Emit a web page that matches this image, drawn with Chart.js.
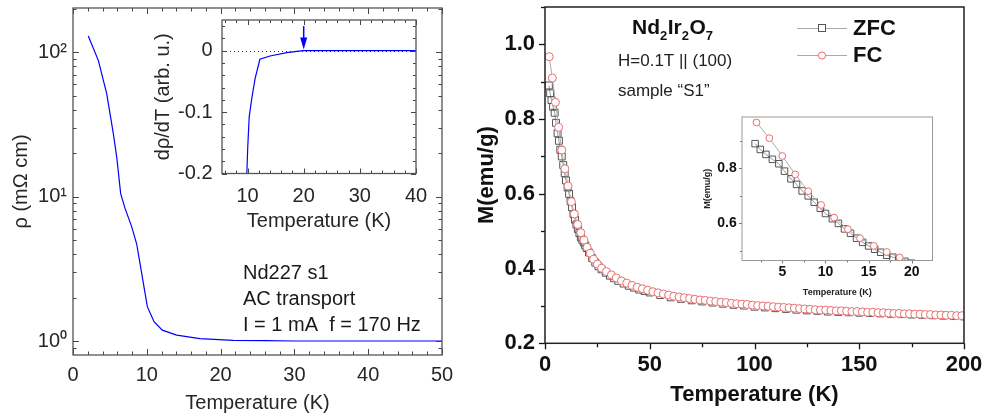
<!DOCTYPE html>
<html>
<head>
<meta charset="utf-8">
<script src="https://cdn.jsdelivr.net/npm/chart.js@4.4.1/dist/chart.umd.min.js"></script>
<style>
  body { margin: 0; background: #fff; }
  #wrap { position: relative; width: 984px; height: 419px; }
  #wrap canvas { position: absolute; left: 0; top: 0; }
</style>
</head>
<body>
<div id="wrap">
  <canvas id="rhoMain" width="984" height="419"></canvas>
  <canvas id="rhoInset" width="984" height="419"></canvas>
  <canvas id="magMain" width="984" height="419"></canvas>
  <canvas id="magInset" width="984" height="419"></canvas>
</div>
<script>
// ---- left panel: resistivity ----
var rhoT = [2.07, 3.43, 4.56, 5.46, 5.92, 6.46, 7.05, 7.95, 8.63, 9.08, 10.07, 10.98, 12.1, 14.05, 17.2, 21.7, 26, 30, 35, 40, 45, 50];
var rhoVal = [130, 88, 52, 27.5, 18.9, 10.5, 8.3, 6.2, 4.7, 3.45, 1.73, 1.36, 1.19, 1.10, 1.04, 1.01, 1.005, 1.0, 1.0, 1.0, 1.0, 1.0];
var rhoMajorX = [0, 10, 20, 30, 40, 50];
var rhoMinorX = [2, 4, 6, 8, 12, 14, 16, 18, 22, 24, 26, 28, 32, 34, 36, 38, 42, 44, 46, 48];
var rhoMajorY = [1, 10, 100];
var rhoMinorY = [0.9, 2, 3, 4, 5, 6, 7, 8, 9, 20, 30, 40, 50, 60, 70, 80, 90, 200];

// inset: derivative
var dT = [9.85, 10.04, 10.3, 10.8, 11.35, 12.2, 14, 17, 19.9, 25, 30, 35, 40];
var dVal = [-0.205, -0.156, -0.107, -0.075, -0.045, -0.014, -0.0086, -0.003, 0, 0, 0, 0, 0];
var dMajorX = [10, 20, 30, 40];
var dMinorX = [6, 8, 12, 14, 16, 18, 22, 24, 26, 28, 32, 34, 36, 38];
var dMajorY = [-0.2, -0.1, 0];
var dMinorY = [-0.18, -0.16, -0.14, -0.12, -0.08, -0.06, -0.04, -0.02, 0.02, 0.04];

// ---- right panel: magnetisation ----
var fcT = [2.0, 3.5, 5.0, 6.5, 8.0, 9.5, 11.0, 12.6, 14.0, 15.6, 17.1, 18.6, 20.1,
  21.6, 23.2, 25.0, 27.0, 29.3, 31.7, 34.0, 36.5,
  39.0, 41.5, 44.0, 46.5, 49.0, 51.5, 54.0, 56.5, 59.0, 61.5, 64.0, 66.5, 69.0, 71.5, 74.0, 76.5,
  79.0, 81.5, 84.0, 86.5, 89.0, 91.5, 94.0, 96.5, 99.0, 101.5, 104.0, 106.5, 109.0, 111.5, 114.0,
  116.5, 119.0, 121.5, 124.0, 126.5, 129.0, 131.5, 134.0, 136.5, 139.0, 141.5, 144.0, 146.5, 149.0,
  151.5, 154.0, 156.5, 159.0, 161.5, 164.0, 166.5, 169.0, 171.5, 174.0, 176.5, 179.0, 181.5, 184.0,
  186.5, 189.0, 191.5, 194.0, 196.5, 199.0];
var fcM = [0.967, 0.910, 0.845, 0.778, 0.717, 0.667, 0.621, 0.579, 0.546, 0.518, 0.496, 0.476, 0.457,
  0.441, 0.425, 0.412, 0.401, 0.392, 0.383, 0.375, 0.367,
  0.361, 0.355, 0.350, 0.346, 0.342, 0.338, 0.335, 0.332, 0.329, 0.326, 0.324, 0.322, 0.320, 0.318, 0.316, 0.315,
  0.313, 0.312, 0.310, 0.309, 0.307, 0.306, 0.305, 0.304, 0.302, 0.301, 0.300, 0.299, 0.298, 0.297, 0.296,
  0.295, 0.294, 0.293, 0.292, 0.291, 0.290, 0.289, 0.289, 0.288, 0.287, 0.287, 0.286, 0.285, 0.285,
  0.284, 0.283, 0.283, 0.282, 0.282, 0.281, 0.280, 0.280, 0.279, 0.279, 0.278, 0.278, 0.277, 0.277,
  0.276, 0.276, 0.275, 0.275, 0.274, 0.274];
var zfcT = [1.85, 2.45, 3.1, 3.85, 4.6, 5.25, 6.0, 6.65, 7.3, 8.0, 8.7, 9.4, 10.0, 10.8, 11.5, 12.2, 12.9,
  13.6, 14.3, 15.0, 15.7, 16.4, 17.1, 17.8, 18.5, 19.2, 19.9,
  21.0, 22.5, 24.0, 25.5, 27.0, 29.0, 31.0, 33.0, 35.0, 37.5,
  40, 42.5, 45, 47.5, 50,
  55, 60, 65, 70, 75, 80, 85, 90, 95, 100, 105, 110, 115, 120, 125, 130, 135, 140, 145, 150,
  155, 160, 165, 170, 175, 180, 185, 190, 195, 200];
var zfcM = [0.890, 0.869, 0.851, 0.833, 0.817, 0.790, 0.762, 0.742, 0.718, 0.700, 0.677, 0.655, 0.636,
  0.617, 0.600, 0.580, 0.564, 0.546, 0.531, 0.518, 0.506, 0.495, 0.484, 0.477, 0.470, 0.462, 0.455,
  0.443, 0.428, 0.416, 0.406, 0.398, 0.389, 0.381, 0.374, 0.367, 0.360,
  0.354, 0.349, 0.344, 0.340, 0.336,
  0.329, 0.323, 0.319, 0.315, 0.312, 0.309, 0.306, 0.303, 0.301, 0.298, 0.296, 0.294, 0.292, 0.290,
  0.288, 0.287, 0.285, 0.284, 0.283, 0.282, 0.281, 0.280, 0.279, 0.278, 0.277, 0.276, 0.275, 0.274, 0.273, 0.272];
var magMajorX = [0, 50, 100, 150, 200];
var magMinorX = [25, 75, 125, 175];
var magMajorY = [0.2, 0.4, 0.6, 0.8, 1.0];
var magMinorY = [0.3, 0.5, 0.7, 0.9, 1.1];
var insMajorX = [5, 10, 15, 20];
var insMinorX = [2.5, 7.5, 12.5, 17.5];
var insMajorY = [0.6, 0.8];
var insMinorY = [0.5, 0.7, 0.9];

var FONT = "'Liberation Sans', Arial, Helvetica, sans-serif";
Chart.defaults.font.family = FONT;
Chart.defaults.animation = false;

function pts(xs, ys) {
  return xs.map(function(x, i) { return {x: x, y: ys[i]}; });
}

// tick marks + frame, positioned through the chart's own scales
var frameTicks = {
  id: 'frameTicks',
  beforeDraw: function(chart, args, o) {
    if (!o.fill) return;
    var a = chart.chartArea, ctx = chart.ctx;
    ctx.save();
    ctx.fillStyle = o.fill;
    ctx.fillRect(a.left, a.top, a.right - a.left, a.bottom - a.top);
    ctx.restore();
  },
  afterDatasetsDraw: function(chart, args, o) {
    var a = chart.chartArea, ctx = chart.ctx;
    var dir = o.inward ? 1 : -1;
    ctx.save();
    ctx.strokeStyle = o.tickColor;
    ctx.lineWidth = o.tickWidth;
    ['x', 'y'].forEach(function(id) {
      var s = chart.scales[id], t = o[id];
      [[t.major, o.majorLen], [t.minor, o.minorLen]].forEach(function(pair) {
        pair[0].forEach(function(v) {
          var p = Math.round(s.getPixelForValue(v)) + 0.5;
          ctx.beginPath();
          if (id === 'x') {
            ctx.moveTo(p, a.bottom); ctx.lineTo(p, a.bottom - dir * pair[1]);
            if (o.mirror) { ctx.moveTo(p, a.top); ctx.lineTo(p, a.top + dir * pair[1]); }
          } else {
            ctx.moveTo(a.left, p); ctx.lineTo(a.left + dir * pair[1], p);
            if (o.mirror) { ctx.moveTo(a.right, p); ctx.lineTo(a.right - dir * pair[1], p); }
          }
          ctx.stroke();
        });
      });
    });
    ctx.strokeStyle = o.frameColor;
    ctx.lineWidth = o.frameWidth;
    ctx.strokeRect(a.left, a.top, a.right - a.left, a.bottom - a.top);
    ctx.restore();
  }
};

function fixTicks(list) {
  return function(scale) { scale.ticks = list.map(function(v) { return {value: v}; }); };
}
// fixed axis thickness; label overflow must not move the plot area
function fitX(h) {
  return function(s) { s.height = h; s.paddingLeft = 0; s.paddingRight = 0; };
}
function fitY(w) {
  return function(s) { s.width = w; s.paddingTop = 0; s.paddingBottom = 0; };
}

// ---------- left main ----------
var rhoNotes = {
  id: 'rhoNotes',
  afterDraw: function(chart) {
    var ctx = chart.ctx;
    ctx.save();
    ctx.fillStyle = '#1a1a1a';
    ctx.font = '20px ' + FONT;
    ctx.textBaseline = 'middle';
    ctx.fillText('Nd227 s1', 243, 273);
    ctx.fillText('AC transport', 243, 299);
    ctx.fillText('I = 1 mA  f = 170 Hz', 243, 325);
    ctx.restore();
  }
};

new Chart(document.getElementById('rhoMain'), {
  type: 'scatter',
  data: { datasets: [{
    data: pts(rhoT, rhoVal), showLine: true, borderColor: '#0000ff', borderWidth: 1.2,
    pointRadius: 0, tension: 0
  }]},
  options: {
    responsive: false, devicePixelRatio: 1,
    layout: { padding: { left: 9, top: 8, right: 542, bottom: 4 } },
    plugins: {
      legend: { display: false }, tooltip: { enabled: false },
      frameTicks: { inward: true, mirror: true, majorLen: 6, minorLen: 3.5, tickColor: '#444', tickWidth: 1,
        frameColor: '#555', frameWidth: 1.3,
        x: { major: rhoMajorX, minor: rhoMinorX }, y: { major: rhoMajorY, minor: rhoMinorY } }
    },
    scales: {
      x: { type: 'linear', min: 0, max: 50, afterBuildTicks: fixTicks(rhoMajorX),
        afterFit: fitX(60),
        grid: { display: false, drawTicks: false }, border: { display: false },
        ticks: { padding: 8, color: '#262626', font: { size: 20 } },
        title: { display: true, text: 'Temperature (K)', color: '#262626', font: { size: 20 }, padding: 0 } },
      y: { type: 'logarithmic', min: 0.8, max: 203, afterBuildTicks: fixTicks(rhoMajorY),
        afterFit: fitY(64),
        grid: { display: false, drawTicks: false }, border: { display: false },
        ticks: { padding: 6, color: '#262626', font: { size: 20 },
          callback: function(v) { return v === 1 ? '10\u2070' : v === 10 ? '10\u00b9' : v === 100 ? '10\u00b2' : ''; } },
        title: { display: true, text: '\u03c1 (m\u03a9 cm)', color: '#262626', font: { size: 20 }, padding: 0 } }
    }
  },
  plugins: [frameTicks, rhoNotes]
});

// ---------- left inset ----------
var dMarks = {
  id: 'dMarks',
  beforeDatasetsDraw: function(chart) {
    var ctx = chart.ctx, a = chart.chartArea;
    var y0 = Math.round(chart.scales.y.getPixelForValue(0)) + 0.5;
    ctx.save();
    ctx.strokeStyle = '#333';
    ctx.lineWidth = 1;
    ctx.setLineDash([1, 3]);
    ctx.beginPath(); ctx.moveTo(a.left, y0); ctx.lineTo(a.right, y0); ctx.stroke();
    ctx.restore();
  },
  afterDatasetsDraw: function(chart) {
    var ctx = chart.ctx;
    var x = chart.scales.x.getPixelForValue(20);
    var yTop = chart.scales.y.getPixelForValue(0.04);
    var yTip = chart.scales.y.getPixelForValue(0.002);
    ctx.save();
    ctx.strokeStyle = '#0000ff'; ctx.fillStyle = '#0000ff'; ctx.lineWidth = 1.5;
    ctx.beginPath(); ctx.moveTo(x, yTop); ctx.lineTo(x, yTip - 8); ctx.stroke();
    ctx.beginPath(); ctx.moveTo(x - 3.5, yTip - 12); ctx.lineTo(x + 3.5, yTip - 12); ctx.lineTo(x, yTip); ctx.closePath(); ctx.fill();
    ctx.restore();
  }
};

new Chart(document.getElementById('rhoInset'), {
  type: 'scatter',
  data: { datasets: [{
    data: pts(dT, dVal), showLine: true, borderColor: '#0000ff', borderWidth: 1.2,
    pointRadius: 0, tension: 0
  }]},
  options: {
    responsive: false, devicePixelRatio: 1,
    layout: { padding: { left: 151, top: 20, right: 568, bottom: 186 } },
    plugins: {
      legend: { display: false }, tooltip: { enabled: false },
      frameTicks: { inward: true, mirror: true, majorLen: 5, minorLen: 3, tickColor: '#444', tickWidth: 1,
        frameColor: '#555', frameWidth: 1.3,
        x: { major: dMajorX, minor: dMinorX }, y: { major: dMajorY, minor: dMinorY } }
    },
    scales: {
      x: { type: 'linear', min: 5.45, max: 40, afterBuildTicks: fixTicks(dMajorX),
        afterFit: fitX(59.5),
        grid: { display: false, drawTicks: false }, border: { display: false },
        ticks: { padding: 10.5, color: '#262626', font: { size: 20 } },
        title: { display: true, text: 'Temperature (K)', color: '#262626', font: { size: 20 }, padding: 0 } },
      y: { type: 'linear', min: -0.2, max: 0.05, afterBuildTicks: fixTicks(dMajorY),
        afterFit: fitY(71),
        grid: { display: false, drawTicks: false }, border: { display: false },
        ticks: { padding: 9.5, color: '#262626', font: { size: 20 },
          callback: function(v) { return v === 0 ? '0' : v.toFixed(1); } },
        title: { display: true, text: 'd\u03c1/dT (arb. u.)', color: '#262626', font: { size: 20 }, padding: 0 } }
    }
  },
  plugins: [frameTicks, dMarks]
});

// ---------- right main ----------
var magNotes = {
  id: 'magNotes',
  afterDraw: function(chart) {
    var ctx = chart.ctx;
    ctx.save();
    ctx.fillStyle = '#111';
    ctx.textBaseline = 'alphabetic';
    // formula with subscripts
    var x = 632;
    [['Nd', 0], ['2', 1], ['Ir', 0], ['2', 1], ['O', 0], ['7', 1]].forEach(function(p) {
      ctx.font = 'bold ' + (p[1] ? 13 : 21) + 'px ' + FONT;
      ctx.fillText(p[0], x, p[1] ? 40 : 33.5);
      x += ctx.measureText(p[0]).width + (p[1] ? 0.5 : 0);
    });
    ctx.font = '17px ' + FONT;
    ctx.fillStyle = '#222';
    ctx.fillText('H=0.1T || (100)', 618, 65.5);
    ctx.fillText('sample \u201cS1\u201d', 618, 96);
    // legend
    ctx.strokeStyle = '#aaa'; ctx.lineWidth = 1;
    [28, 55].forEach(function(y) {
      ctx.beginPath(); ctx.moveTo(797, y + 0.5); ctx.lineTo(847, y + 0.5); ctx.stroke();
    });
    ctx.fillStyle = '#fff';
    ctx.strokeStyle = '#555';
    ctx.fillRect(818.5, 24.5, 7, 7); ctx.strokeRect(818.5, 24.5, 7, 7);
    ctx.strokeStyle = 'rgb(232,112,112)';
    ctx.beginPath(); ctx.arc(822, 55.5, 3.6, 0, Math.PI * 2); ctx.fill(); ctx.stroke();
    ctx.fillStyle = '#111';
    ctx.font = 'bold 22px ' + FONT;
    ctx.textBaseline = 'middle';
    ctx.fillText('ZFC', 853, 29);
    ctx.fillText('FC', 853, 56);
    ctx.restore();
  }
};

function magSets(rSq, rCi) {
  return [{
    label: 'FC', data: pts(fcT, fcM), showLine: true, borderColor: '#aaaaaa', borderWidth: 1,
    pointStyle: 'circle', pointRadius: rCi, pointBorderColor: 'rgb(232,112,112)',
    pointBackgroundColor: '#ffffff', pointBorderWidth: 1
  }, {
    label: 'ZFC', data: pts(zfcT, zfcM), showLine: true, borderColor: '#999999', borderWidth: 1,
    pointStyle: 'rect', pointRadius: rSq, pointBorderColor: '#555555',
    pointBackgroundColor: 'rgba(0,0,0,0)', pointBorderWidth: 1
  }];
}

new Chart(document.getElementById('magMain'), {
  type: 'scatter',
  data: { datasets: magSets(4.9, 4) },
  options: {
    responsive: false, devicePixelRatio: 1,
    layout: { padding: { left: 473.8, top: 7, right: 20, bottom: 10.7 } },
    plugins: {
      legend: { display: false }, tooltip: { enabled: false },
      frameTicks: { inward: false, mirror: false, majorLen: 6, minorLen: 4, tickColor: '#111', tickWidth: 1.3,
        frameColor: '#222', frameWidth: 1.5,
        x: { major: magMajorX, minor: magMinorX }, y: { major: magMajorY, minor: magMinorY } }
    },
    scales: {
      x: { type: 'linear', min: 0, max: 200, afterBuildTicks: fixTicks(magMajorX),
        afterFit: fitX(65),
        grid: { display: false, drawTicks: false }, border: { display: false },
        ticks: { padding: 8.5, color: '#111', font: { size: 22, weight: 'bold' } },
        title: { display: true, text: 'Temperature (K)', color: '#111', font: { size: 22, weight: 'bold' }, padding: 0 } },
      y: { type: 'linear', min: 0.2, max: 1.1, afterBuildTicks: fixTicks(magMajorY),
        afterFit: fitY(71.2),
        grid: { display: false, drawTicks: false }, border: { display: false },
        ticks: { padding: 10, color: '#111', font: { size: 22, weight: 'bold' },
          callback: function(v) { return v.toFixed(1); } },
        title: { display: true, text: 'M(emu/g)', color: '#111', font: { size: 22, weight: 'bold' }, padding: 0 } }
    }
  },
  plugins: [frameTicks, magNotes]
});

// ---------- right inset ----------
new Chart(document.getElementById('magInset'), {
  type: 'scatter',
  data: { datasets: magSets(4.6, 3.4) },
  options: {
    responsive: false, devicePixelRatio: 1,
    layout: { padding: { left: 702.6, top: 117, right: 51.5, bottom: 120.6 } },
    plugins: {
      legend: { display: false }, tooltip: { enabled: false },
      frameTicks: { fill: '#fff', inward: false, mirror: false, majorLen: 3, minorLen: 2, tickColor: '#777', tickWidth: 1,
        frameColor: '#999', frameWidth: 1,
        x: { major: insMajorX, minor: insMinorX }, y: { major: insMajorY, minor: insMinorY } }
    },
    scales: {
      x: { type: 'linear', min: 0.33, max: 22.4, afterBuildTicks: fixTicks(insMajorX),
        afterFit: fitX(37.9),
        grid: { display: false, drawTicks: false }, border: { display: false },
        ticks: { padding: 3.6, color: '#111', font: { size: 14, weight: 'bold' } },
        title: { display: true, text: 'Temperature (K)', color: '#222', font: { size: 9, weight: 'bold' }, padding: 0 } },
      y: { type: 'linear', min: 0.465, max: 0.987, afterBuildTicks: fixTicks(insMajorY),
        afterFit: fitY(39.4),
        grid: { display: false, drawTicks: false }, border: { display: false },
        ticks: { padding: 5.3, color: '#111', font: { size: 14, weight: 'bold' },
          callback: function(v) { return v.toFixed(1); } },
        title: { display: true, text: 'M(emu/g)', color: '#222', font: { size: 9, weight: 'bold' }, padding: 0 } }
    }
  },
  plugins: [frameTicks]
});
</script>
</body>
</html>
